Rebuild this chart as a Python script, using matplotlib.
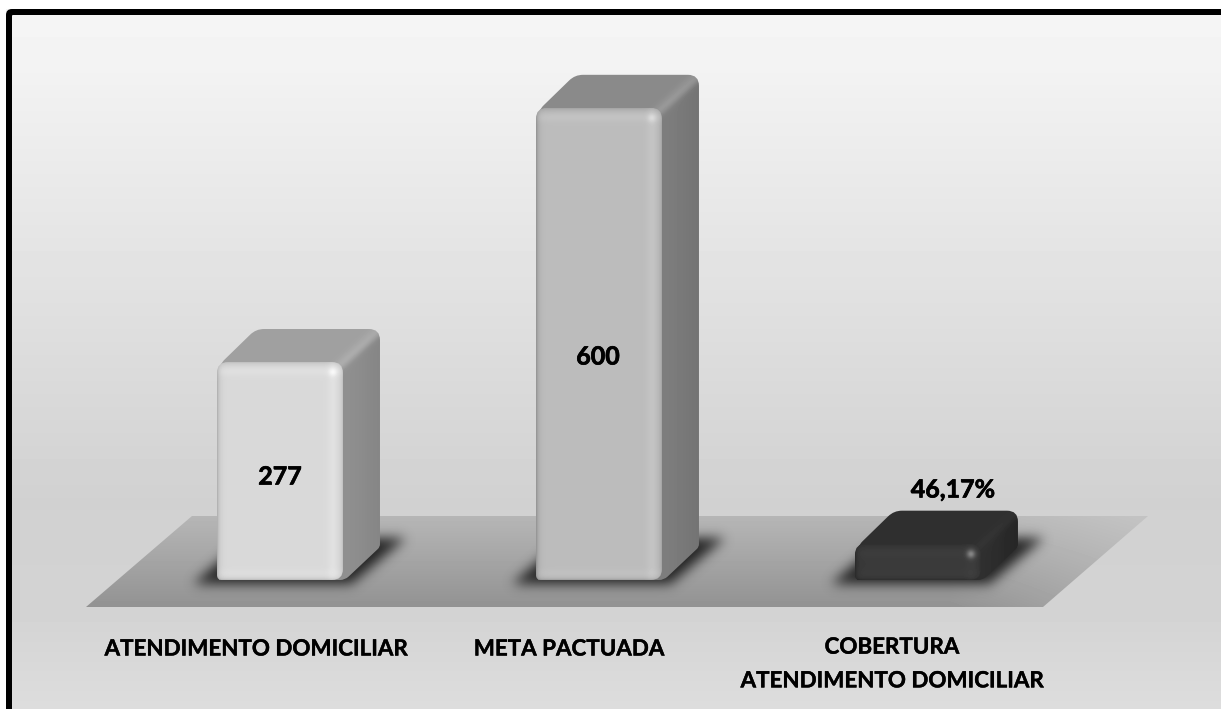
import numpy as np
import matplotlib
matplotlib.use('Agg')
import matplotlib.pyplot as plt
import matplotlib.patheffects as pe
from matplotlib.path import Path
from matplotlib.patches import PathPatch
from matplotlib.transforms import Affine2D

# Chart values
categories = ['ATENDIMENTO DOMICILIAR', 'META PACTUADA', 'COBERTURA\nATENDIMENTO DOMICILIAR']
values = [277, 600, 46.17]
value_labels = ['277', '600', '46,17%']

W, H = 1221, 709
plt.rcParams['font.family'] = ['Lato', 'DejaVu Sans']

fig = plt.figure(figsize=(W / 100, H / 100), dpi=100, facecolor='white')
ax = fig.add_axes([0, 0, 1, 1])
ax.set_xlim(-0.8777, 2.95)
ax.set_ylim(-163.9, 737)
ax.autoscale(False)
ax.axis('off')

# Image pixels (y going down) to display coordinates
pix = Affine2D().scale(1, -1).translate(0, H)
BAR_W = 0.395
DEPTH_X, DEPTH_Y = 37, 33


def to_px(x, y):
    dx, dy = ax.transData.transform((x, y))
    return dx, H - dy


def blur(a, sigma):
    # Separable gaussian blur
    n = int(sigma * 3)
    k = np.exp(-0.5 * (np.arange(-n, n + 1) / sigma) ** 2)
    k /= k.sum()
    a = np.apply_along_axis(lambda r: np.convolve(r, k, mode='same'), 0, a)
    return np.apply_along_axis(lambda r: np.convolve(r, k, mode='same'), 1, a)


def rounded(verts, radii):
    # Closed path through verts, each corner rounded with its own radius
    verts = np.asarray(verts, float)
    n = len(verts)
    pts, codes = [], []
    for i in range(n):
        p, a, b = verts[i], verts[i - 1], verts[(i + 1) % n]
        u = (a - p) / np.linalg.norm(a - p)
        v = (b - p) / np.linalg.norm(b - p)
        pts += [p + u * radii[i], p, p + v * radii[i]]
        codes += [Path.LINETO if i else Path.MOVETO, Path.CURVE3, Path.CURVE3]
    pts.append(pts[0])
    codes.append(Path.CLOSEPOLY)
    return Path(pts, codes)


def gray_image(arr, x0, y0, clip=None, zorder=1):
    # Paint an array of gray levels (0-255) with its corner on pixel (x0, y0)
    h, w = arr.shape
    im = ax.imshow(np.clip(arr, 0, 255), cmap='gray', vmin=0, vmax=255, aspect='auto',
                   extent=(x0, x0 + w, y0 + h, y0), origin='upper', transform=pix,
                   interpolation='bilinear', zorder=zorder)
    if clip is not None:
        patch = PathPatch(clip, transform=pix, fc='none', ec='none')
        ax.add_patch(patch)
        im.set_clip_path(patch)
    return im


# Background gradient, with the black border on the top and left only
bg_y = np.arange(H)
bg = np.interp(bg_y, [15, 60, 200, 330, 500, 610, 709], [245, 243, 232, 222, 209, 211, 221])
bg = np.tile(bg[:, None], (1, W))
gray_image(bg, 0, 0, zorder=0)
ax.add_patch(PathPatch(Path([(0, 0), (W, 0), (W, 9), (0, 9), (0, 0)]), transform=pix, fc='white', ec='none', zorder=0.5))
ax.add_patch(PathPatch(Path([(0, 0), (6, 0), (6, H), (0, H), (0, 0)]), transform=pix, fc='white', ec='none', zorder=0.5))
ax.add_patch(PathPatch(rounded([(6, 9), (W + 20, 9), (W + 20, 15), (12, 15), (12, H + 20), (6, H + 20)],
                               [6, 0.1, 0.1, 1, 0.1, 0.1]), transform=pix, fc='black', ec='none', zorder=0.6))

# Floor
fl_top, fl_bot = 516, 607
floor_path = Path([(192, fl_top), (1148, fl_top), (1043, fl_bot), (86, fl_bot), (192, fl_top)])
yy, xx = np.mgrid[fl_top:fl_bot + 1, 80:1155]
t = (yy - fl_top) / (fl_bot - fl_top)
fl = 182 - 36 * t + 14 * np.clip((xx - 950) / 200, 0, 1) * (1 + t)
gray_image(fl, 80, fl_top, clip=floor_path, zorder=1)

# Gray levels of the three faces of each bar
front_gray = [217, 188, 58]
side_gray = [138, 120, 42]
top_gray = [160, 138, 47]

for i, v in enumerate(values):
    xl, yt = to_px(i - BAR_W / 2, v)
    xr, yb = to_px(i + BAR_W / 2, 0)

    # Soft shadow on the floor
    sx0, sy0 = int(xl) - 50, int(yb) - 70
    sw, sh = int(xr - xl) + 145, 100
    gy, gx = np.mgrid[sy0:sy0 + sh, sx0:sx0 + sw]
    shadow_poly = Path([(xl - 24, yb + 4), (xr + 8, yb + 4), (xr + 63, yb - 42), (xl + 30, yb - 42), (xl - 24, yb + 4)])
    mask = shadow_poly.contains_points(np.c_[gx.ravel() + 0.5, gy.ravel() + 0.5]).reshape(gx.shape).astype(float)
    mask = blur(mask, 6)
    rgba = np.zeros(mask.shape + (4,))
    rgba[..., :3] = 0.08
    rgba[..., 3] = mask * 0.9
    ax.imshow(rgba, aspect='auto', extent=(sx0, sx0 + sw, sy0 + sh, sy0), origin='upper',
              transform=pix, interpolation='bilinear', zorder=2)

    # Top and side faces share one outline, blended along the diagonal edge
    body = rounded([(xl + 2, yt + 3), (xl + DEPTH_X + 2, yt - DEPTH_Y), (xr + DEPTH_X, yt - DEPTH_Y),
                    (xr + DEPTH_X, yb - DEPTH_Y), (xr + 2, yb), (xl + 2, yb)],
                   [8, 8, 11, 3, 5, 0.1])
    bx0, by0 = int(xl), int(yt) - DEPTH_Y - 2
    gy, gx = np.mgrid[by0:int(yb) + 2, bx0:int(xr) + DEPTH_X + 2]
    d = ((gx - xr) * DEPTH_Y + (gy - yt) * DEPTH_X) / np.hypot(DEPTH_X, DEPTH_Y)
    blend = np.clip(d / 12 + 0.5, 0, 1)
    shade = top_gray[i] * (1 - blend) + (side_gray[i] + 5 * np.cos((gx - xr) / DEPTH_X * 2.6)) * blend
    shade = shade + (20 if i < 2 else 5) * np.exp(-(d / 5) ** 2)
    gray_image(shade, bx0, by0, clip=body, zorder=3)

    # Front face with its rounded edge shading
    fw, fh = int(round(xr - xl)), int(round(yb - yt))
    gy, gx = np.mgrid[0:fh, 0:fw] + 0.5
    dl, dr, dt, db = gx, fw - gx, gy, fh - gy
    sign = 1 if i < 2 else 0.4
    face = np.full(gx.shape, float(front_gray[i]))
    face += sign * 7 * np.exp(-((dt - 9) / 5) ** 2) + sign * 8 * np.exp(-((dr - 10) / 5) ** 2)
    face += sign * 4 * np.exp(-((db - 7) / 4) ** 2)
    face += -45 * sign * np.exp(-dl / 2.5) - 25 * sign * np.exp(-dr / 2.5)
    face += -25 * sign * np.exp(-dt / 3) - 35 * sign * np.exp(-db / 1.5)
    face += (18 if i < 2 else 70) * np.exp(-(((dr - 10) ** 2 + (dt - 10) ** 2) / 18))
    front = rounded([(xl, yt), (xr, yt), (xr, yb), (xl, yb)], [11, 11, 11, 5])
    gray_image(face, int(round(xl)), int(round(yt)), clip=front, zorder=4)

# Value labels
label_pos = [(280, 477), (598, 357), (953, 490)]
for (lx, ly), txt in zip(label_pos, value_labels):
    ax.text(lx, ly, txt, transform=pix, ha='center', va='center', fontsize=18, fontweight='bold', color='black',
            zorder=6, path_effects=[pe.withStroke(linewidth=0.5, foreground='black')])

# Category labels
cat_pos = [(256, 649), (569, 649), (892, 664)]
for (lx, ly), txt in zip(cat_pos, categories):
    ax.text(lx, ly, txt, transform=pix, ha='center', va='center', fontsize=16.1, fontweight='bold', color='black',
            linespacing=1.75, zorder=6, path_effects=[pe.withStroke(linewidth=0.3, foreground='black')])

fig.savefig('out.png', dpi=100, facecolor='white')
